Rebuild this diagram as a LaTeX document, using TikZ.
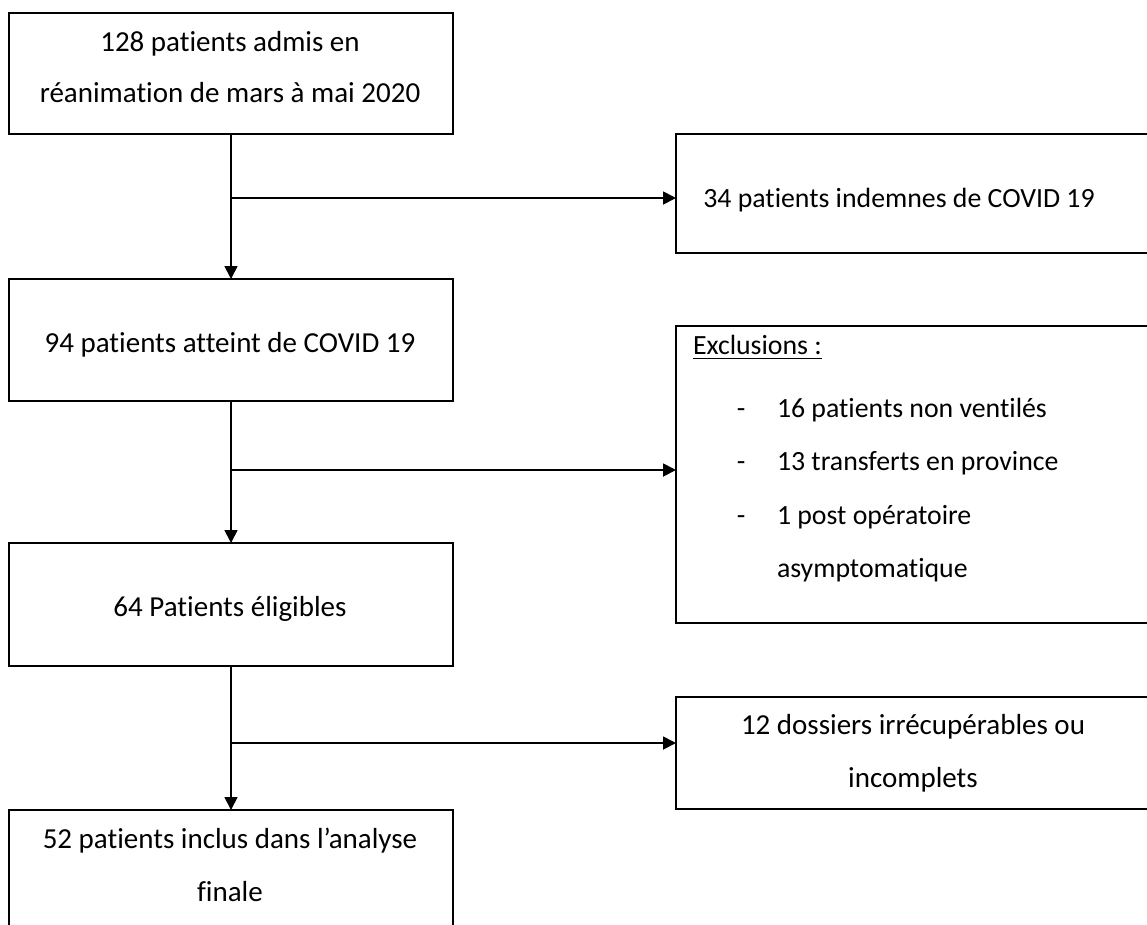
\documentclass[tikz,border=0pt]{standalone}
\usepackage{fontspec}
\setmainfont{Carlito}[Ligatures=NoCommon]
\usetikzlibrary{arrows.meta}
\begin{document}
\begin{tikzpicture}[x=1pt,y=-1pt,
  box/.style={draw=black,line width=1.8pt,inner sep=0pt,outer sep=0pt},
  txt/.style={inner sep=0pt,outer sep=0pt,anchor=base,font=\fontsize{29}{34}\selectfont},
  stxt/.style={txt,font=\fontsize{27.8}{33}\selectfont},
  ltxt/.style={stxt,anchor=base west},
  link/.style={line width=1.8pt,-{Triangle[length=13pt,width=13pt]}},
  plain/.style={line width=1.8pt}]
\useasboundingbox (0,0) rectangle (1147,924);
% boxes
\node[box,minimum width=444pt,minimum height=121pt] (b1) at (231,73.5) {};
\node[box,minimum width=444pt,minimum height=122pt] (b2) at (231,340) {};
\node[box,minimum width=444pt,minimum height=123pt] (b3) at (231,604.5) {};
\node[box,minimum width=444pt,minimum height=130pt] (b4) at (231,875) {};
\node[box,minimum width=476pt,minimum height=119pt] (r1) at (914,193.5) {};
\node[box,minimum width=476pt,minimum height=297pt] (r2) at (914,474.5) {};
\node[box,minimum width=476pt,minimum height=112pt] (r3) at (914,753) {};
% texts
\node[txt] (t1a) at (230,51) {128 patients admis en};
\node[txt] (t1b) at (230,102) {réanimation de mars à mai 2020};
\node[txt] (t2) at (230,352) {94 patients atteint de COVID 19};
\node[txt] (t3) at (230,616) {64 Patients éligibles};
\node[txt] (t4a) at (230,848) {52 patients inclus dans l’analyse};
\node[txt] (t4b) at (230,901) {finale};
\node[stxt] (tr1) at (899,207) {34 patients indemnes de COVID 19};
\node[txt] (tr3a) at (913,734) {12 dossiers irrécupérables ou};
\node[txt] (tr3b) at (913,787) {incomplets};
\node[ltxt] (ex) at (693,354) {Exclusions :};
\draw[line width=1.5pt] ([yshift=-4.5pt]ex.base west) -- ([yshift=-4.5pt]ex.base east);
\node[stxt] (d1) at (741,417) {-};
\node[stxt] (d2) at (741,470) {-};
\node[stxt] (d3) at (741,524) {-};
\node[ltxt] (e1) at (777,417) {16 patients non ventilés};
\node[ltxt] (e2) at (777,470) {13 transferts en province};
\node[ltxt] (e3) at (777,524) {1 post opératoire};
\node[ltxt] (e4) at (777,577) {asymptomatique};
% junctions
\coordinate (j1) at (231,198);
\coordinate (j2) at (231,470);
\coordinate (j3) at (231,743);
% connectors
\draw[link] (b1.south) -- (b2.north);
\draw[link] (b2.south) -- (b3.north);
\draw[link] (b3.south) -- (b4.north);
\draw[link] (j1) -- (j1 -| r1.west);
\draw[link] (j2) -- (j2 -| r2.west);
\draw[link] (j3) -- (j3 -| r3.west);
\end{tikzpicture}
\end{document}
